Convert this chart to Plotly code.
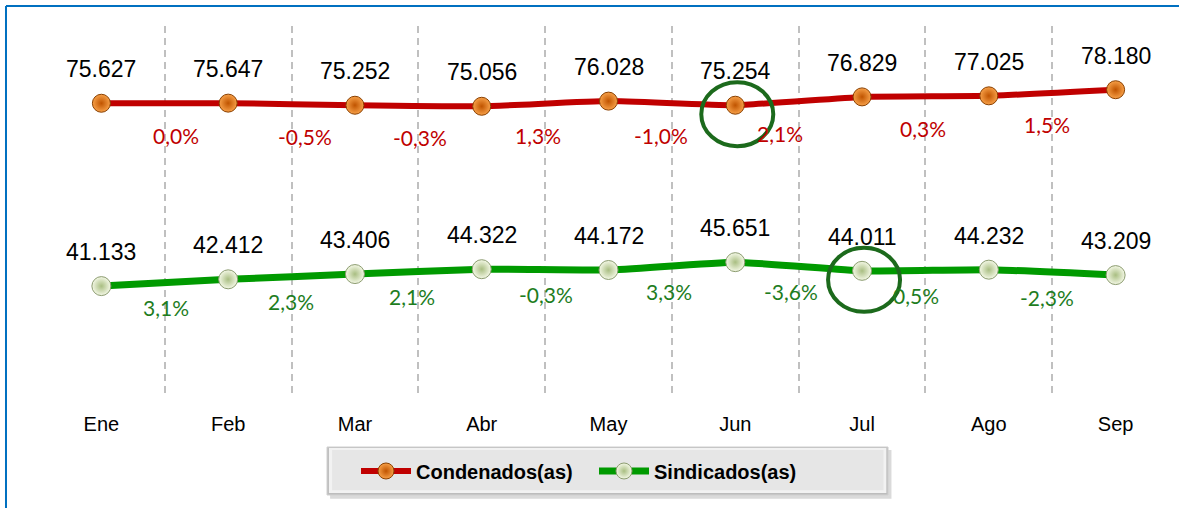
import plotly.graph_objects as go

months = ["Ene", "Feb", "Mar", "Abr", "May", "Jun", "Jul", "Ago", "Sep"]
condenados = [75.627, 75.647, 75.252, 75.056, 76.028, 75.254, 76.829, 77.025, 78.180]
sindicados = [41.133, 42.412, 43.406, 44.322, 44.172, 45.651, 44.011, 44.232, 43.209]
cond_pct = ["0,0%", "-0,5%", "-0,3%", "1,3%", "-1,0%", "2,1%", "0,3%", "1,5%"]
sind_pct = ["3,1%", "2,3%", "2,1%", "-0,3%", "3,3%", "-3,6%", "0,5%", "-2,3%"]
cond_label = ["75.627", "75.647", "75.252", "75.056", "76.028", "75.254", "76.829", "77.025", "78.180"]
sind_label = ["41.133", "42.412", "43.406", "44.322", "44.172", "45.651", "44.011", "44.232", "43.209"]
highlight_cond = "Jun"
highlight_sind = "Jul"

# style offsets (pixels) for the change labels
cond_pct_dx = [11, 13, 2, -7, -11, -19, -2, -5]
sind_pct_dx = [1, -1, -6, 1, -3, -8, -9, -5]

RED = "#C00000"
GREEN = "#009A00"
xs = list(range(len(months)))

fig = go.Figure()
fig.add_trace(go.Scatter(
    x=xs, y=condenados, name="Condenados(as)", mode="lines+markers",
    line=dict(color=RED, width=6, shape="spline", smoothing=0.4),
    marker=dict(size=18, color="#F7A048", gradient=dict(type="radial", color="#C05400"),
                line=dict(color="#8A4000", width=1)),
))
fig.add_trace(go.Scatter(
    x=xs, y=sindicados, name="Sindicados(as)", mode="lines+markers",
    line=dict(color=GREEN, width=7, shape="spline", smoothing=0.4),
    marker=dict(size=19, color="#F4F8E6", gradient=dict(type="radial", color="#A9BE82"),
                line=dict(color="#8C9C70", width=1)),
))

ann = []
for i, v in enumerate(condenados):
    ann.append(dict(x=i, y=v, text=cond_label[i], showarrow=False, yshift=34,
                    font=dict(family="Liberation Sans, Arial", size=23, color="black")))
for i, v in enumerate(sindicados):
    ann.append(dict(x=i, y=v, text=sind_label[i], showarrow=False, yshift=34,
                    font=dict(family="Liberation Sans, Arial", size=23, color="black")))
for i, t in enumerate(cond_pct):
    ym = (condenados[i] + condenados[i + 1]) / 2
    ann.append(dict(x=i + 0.5, y=ym, text=t, showarrow=False, yshift=-32, xshift=cond_pct_dx[i],
                    font=dict(family="Lato", size=21, color=RED)))
for i, t in enumerate(sind_pct):
    ym = (sindicados[i] + sindicados[i + 1]) / 2
    ann.append(dict(x=i + 0.5, y=ym, text=t, showarrow=False, yshift=-25, xshift=sind_pct_dx[i],
                    font=dict(family="Lato", size=21, color="#1E7D1E")))

shapes = []
# highlight circles
ic = months.index(highlight_cond)
isd = months.index(highlight_sind)
for xi, yv in [(ic, condenados[ic]), (isd, sindicados[isd])]:
    shapes.append(dict(type="circle", xref="x", yref="y", xsizemode="pixel", ysizemode="pixel",
                       xanchor=xi, yanchor=yv, x0=-34, x1=38, y0=-41, y1=23,
                       line=dict(color="#1C6A1C", width=4), layer="above"))
# border (top and left)
shapes.append(dict(type="line", xref="paper", yref="paper", x0=-0.02805, x1=1.0, y0=1.0541, y1=1.0541,
                   line=dict(color="#0070C0", width=2)))
shapes.append(dict(type="line", xref="paper", yref="paper", x0=-0.02805, x1=-0.02805, y0=1.0541, y1=-0.31,
                   line=dict(color="#0070C0", width=2)))
# legend box with bevel + shadow
shapes.append(dict(type="rect", xref="paper", yref="paper", x0=0.2560, x1=0.7480, y0=-0.1460, y1=-0.2780,
                   fillcolor="#DADADA", line=dict(width=0), layer="above"))
shapes.append(dict(type="rect", xref="paper", yref="paper", x0=0.2533, x1=0.7450, y0=-0.1378, y1=-0.2676,
                   fillcolor="#BDBDBD", line=dict(color="#D0D0D0", width=1), layer="above"))
shapes.append(dict(type="rect", xref="paper", yref="paper", x0=0.2550, x1=0.7435, y0=-0.1405, y1=-0.2620,
                   fillcolor="#F2F2F2", line=dict(width=0), layer="above"))
shapes.append(dict(type="rect", xref="paper", yref="paper", x0=0.2578, x1=0.7410, y0=-0.1460, y1=-0.2545,
                   fillcolor="#E6E6E6", line=dict(width=0), layer="above"))

fig.update_layout(
    width=1179, height=508,
    margin=dict(l=38, r=0, t=26, b=112),
    paper_bgcolor="white", plot_bgcolor="white",
    showlegend=True,
    legend=dict(orientation="h", x=0.4873, xanchor="center", y=-0.2027, yanchor="middle",
                bgcolor="rgba(0,0,0,0)", font=dict(family="Liberation Sans, Arial", size=20, color="black", weight="bold"),
                itemwidth=50, entrywidth=173, traceorder="normal"),
    xaxis=dict(range=[-0.5, 8.5], tickvals=xs, ticktext=months, showgrid=False, zeroline=False,
               showline=False, ticks="", ticklabelstandoff=14,
               tickfont=dict(family="Liberation Sans, Arial", size=20, color="black"),
               minor=dict(tickvals=[i - 0.5 for i in range(len(months) + 1)], showgrid=True,
                          gridcolor="#C0C0C0", gridwidth=1.5, griddash="7px,5px", ticks="")),
    yaxis=dict(range=[20.4, 90.2], visible=False, showgrid=False, zeroline=False),
    annotations=ann, shapes=shapes,
)

fig.write_html("out.html", config={"displayModeBar": False},
               post_script="document.body.style.margin='0';")
